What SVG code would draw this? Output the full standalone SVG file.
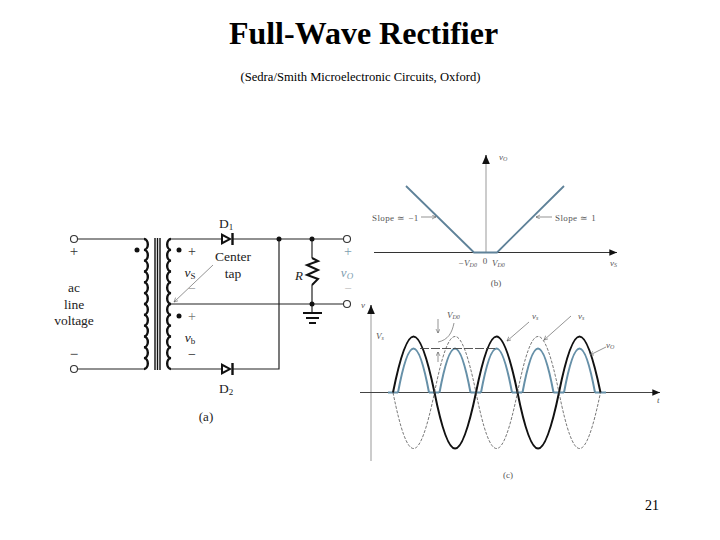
<svg xmlns="http://www.w3.org/2000/svg" width="720" height="540" viewBox="0 0 720 540">
<style>
text{font-family:"Liberation Serif","Times New Roman",serif;fill:#222}
.w{fill:none;stroke:#222;stroke-width:1.2}
.c{fill:none;stroke:#111;stroke-width:2.4}
.t{fill:#fff;stroke:#333;stroke-width:1.1}
.d{fill:#111}
.m{text-anchor:middle}
.ct{font-size:13.500px}
.sm{font-size:9px;fill:#555}
.bl{fill:#7d9db0;font-size:14px}
.ax{fill:none;stroke:#999;stroke-width:1}
.ab{fill:none;stroke:#333;stroke-width:1.3}
.blue{fill:none;stroke:#6690a8;stroke-width:2}
.blk{fill:none;stroke:#111;stroke-width:2}
.ds{fill:none;stroke:#555;stroke-width:.8;stroke-dasharray:3 1.5}
.thin{fill:none;stroke:#666;stroke-width:.7}
</style>
<defs>
<marker id="a" markerWidth="8" markerHeight="8" refX="7" refY="3" orient="auto"><path d="M0 0L7 3L0 6z" fill="#111"/></marker>
<marker id="o" markerWidth="8" markerHeight="8" refX="6" refY="3" orient="auto"><path d="M0 0L6 3L0 6" fill="none" stroke="#555" stroke-width=".8"/></marker>
<path id="hump" d="M0 0C15-74.700 26-74.700 41.500 0"/>
<path id="arch" d="M0 0C11-58.700 20-58.700 31 0"/>
</defs>
<g id="title">
<text x="363.500" y="44" class="m" font-size="32" font-weight="bold" style="fill:#000">Full-Wave Rectifier</text>
<text x="360.500" y="81" class="m" font-size="12.600" style="fill:#000">(Sedra/Smith Microelectronic Circuits, Oxford)</text>
<text x="652" y="510" class="m" font-size="14" style="fill:#000">21</text>
</g>
<g id="connectors">
<path class="w" d="M78 239H144M78 369H144M171 239H221M233 239H343M171 369H221M233 369H279V239M171 304H343M312 239V258M312 285V304M312 304V313"/>
<path class="thin" d="M213 265L174 302" marker-end="url(#o)"/>
</g>
<g id="transformer">
<path class="c" d="M144 239a4 5.420 0 0 1 0 10.830a4 5.420 0 0 1 0 10.830a4 5.420 0 0 1 0 10.830a4 5.420 0 0 1 0 10.830a4 5.420 0 0 1 0 10.830a4 5.420 0 0 1 0 10.830a4 5.420 0 0 1 0 10.830a4 5.420 0 0 1 0 10.830a4 5.420 0 0 1 0 10.830a4 5.420 0 0 1 0 10.830a4 5.420 0 0 1 0 10.830a4 5.420 0 0 1 0 10.830"/>
<path class="c" d="M171 239a4 5.420 0 0 0 0 10.830a4 5.420 0 0 0 0 10.830a4 5.420 0 0 0 0 10.830a4 5.420 0 0 0 0 10.830a4 5.420 0 0 0 0 10.830a4 5.420 0 0 0 0 10.830a4 5.420 0 0 0 0 10.830a4 5.420 0 0 0 0 10.830a4 5.420 0 0 0 0 10.830a4 5.420 0 0 0 0 10.830a4 5.420 0 0 0 0 10.830a4 5.420 0 0 0 0 10.830"/>
<path fill="none" stroke="#111" stroke-width="1.400" d="M155 238V370M157.500 238V370M160 238V370"/>
<circle class="d" cx="137" cy="250" r="2.500"/><circle class="d" cx="179" cy="250" r="2.500"/><circle class="d" cx="179" cy="316" r="2.500"/>
</g>
<g id="input">
<circle class="t" cx="74" cy="239" r="3.500"/><circle class="t" cx="74" cy="369" r="3.500"/>
<text x="74" y="256" class="m" font-size="15" style="fill:#333">+</text><text x="74" y="359" class="m" font-size="15">−</text>
<text x="74" y="292" class="m ct">ac</text><text x="74" y="309" class="m ct">line</text><text x="74" y="325" class="m ct">voltage</text>
</g>
<g id="secondary-labels">
<text x="192" y="256" class="m" font-size="14" style="fill:#333">+</text>
<text x="190" y="277" class="m ct" font-style="italic">v<tspan font-size="9" dy="2" font-style="normal">S</tspan></text>
<text x="192" y="293" class="m" font-size="14" style="fill:#999">−</text>
<text x="192" y="321" class="m" font-size="14" style="fill:#777">+</text>
<text x="190" y="342" class="m ct" font-style="italic">v<tspan font-size="9" dy="2" font-style="normal">b</tspan></text>
<text x="192" y="359" class="m" font-size="14">−</text>
<text x="233" y="261" class="m ct">Center</text><text x="233" y="278" class="m ct">tap</text>
<text x="206" y="421" class="m" font-size="13">(a)</text>
</g>
<g id="D1"><path class="d" d="M221 233L232 239L221 245z"/><path stroke="#111" stroke-width="2.400" d="M232.500 233V245"/><path fill="#fff" d="M223 236.500L228 239L223 241.500z"/>
<text x="226" y="228" class="m ct">D<tspan font-size="9" dy="2">1</tspan></text></g>
<g id="D2"><path class="d" d="M221 363L232 369L221 375z"/><path stroke="#111" stroke-width="2.400" d="M232.500 363V375"/><path fill="#fff" d="M223 366.500L228 369L223 371.500z"/>
<text x="226" y="393" class="m ct">D<tspan font-size="9" dy="2">2</tspan></text></g>
<g id="R"><path fill="none" stroke="#111" stroke-width="2" d="M312 258L318 261L307 265L318 270L307 275L318 279L312 285"/>
<text x="299" y="280" class="m" font-size="13" font-style="italic">R</text></g>
<g id="ground"><path stroke="#111" stroke-width="1.800" d="M303 313H322M306 318H319M309 323H316"/></g>
<g id="junctions"><circle class="d" cx="279" cy="239" r="2.500"/><circle class="d" cx="312" cy="239" r="2.500"/><circle class="d" cx="312" cy="304" r="2.500"/></g>
<g id="output">
<circle class="t" cx="347" cy="239" r="3.500"/><circle class="t" cx="347" cy="304" r="3.500"/>
<text x="348" y="256" class="m bl">+</text>
<text x="347" y="277" class="m bl" style="font-size:13px" font-style="italic">v<tspan font-size="9" dy="2">O</tspan></text>
<text x="348" y="293" class="m" font-size="13" style="fill:#bbb">−</text>
</g>
<g id="graph-b">
<path class="ax" d="M486 252V160"/><path class="ab" d="M486 160V155" marker-end="url(#a)"/>
<path fill="none" stroke="#333" stroke-width="1.100" d="M374 252.500H617" marker-end="url(#a)"/>
<path fill="none" stroke="#5f8299" stroke-width="1.800" d="M406 186L474 252.500H497L564 186"/>
<path class="thin" d="M421 217H436" marker-end="url(#o)"/><path class="thin" d="M552 217H536" marker-end="url(#o)"/>
<text x="372" y="221" class="sm" style="letter-spacing:.4px">Slope ≃ −1</text><text x="555" y="221" class="sm" style="letter-spacing:.4px">Slope ≃ 1</text>
<text x="499" y="160" class="sm" font-style="italic">v<tspan font-size="6" dy="1">O</tspan></text>
<text x="610" y="266" class="sm" font-style="italic">v<tspan font-size="6" dy="1">S</tspan></text>
<text x="458" y="266" class="sm" font-style="italic">−V<tspan font-size="6" dy="1">D0</tspan></text>
<text x="485" y="264" class="m sm">0</text>
<text x="492" y="266" class="sm" font-style="italic">V<tspan font-size="6" dy="1">D0</tspan></text>
<text x="496" y="286" class="m sm">(b)</text>
</g>
<g id="graph-c">
<path class="ax" d="M371 461V310"/><path class="ab" d="M371 312V305" marker-end="url(#a)"/>
<path fill="none" stroke="#444" stroke-width="1.100" d="M360 392.500H660" marker-end="url(#a)"/>
<path class="blue" d="M388 392.500H398M429 392.500H439M470.500 392.500H481M512 392.500H522M553.500 392.500H564M595 392.500H606"/>
<g transform="translate(0 392.500)">
<use href="#arch" x="398" class="blue"/><use href="#arch" x="439.500" class="blue"/><use href="#arch" x="481" class="blue"/><use href="#arch" x="522.500" class="blue"/><use href="#arch" x="564" class="blue"/>
</g>
<g transform="translate(0 392.500)">
<use href="#hump" x="393" class="blk"/><use href="#hump" x="476" class="blk"/><use href="#hump" x="559" class="blk"/>
<use href="#hump" x="434.500" class="ds"/><use href="#hump" x="517.500" class="ds"/>
</g>
<g transform="translate(0 392.500) scale(1 -1)">
<use href="#hump" x="434.500" class="blk"/><use href="#hump" x="517.500" class="blk"/>
<use href="#hump" x="393" class="ds"/><use href="#hump" x="476" class="ds"/><use href="#hump" x="559" class="ds"/>
</g>
<path fill="none" stroke="#444" stroke-width=".9" stroke-dasharray="9 2" d="M420 348.500H497"/>
<path class="thin" d="M438 319V333" marker-end="url(#o)"/><path class="thin" d="M438 362V352" marker-end="url(#o)"/>
<path class="thin" d="M438 342C448 340 452 333 454 323"/>
<path class="thin" d="M529 322L507 341" marker-end="url(#o)"/><path class="thin" d="M571 316L544 340" marker-end="url(#o)"/><path class="thin" d="M606 347L590 355" marker-end="url(#o)"/>
<text x="361" y="308" class="sm" font-style="italic">v</text>
<text x="376" y="339" class="sm" font-style="italic">V<tspan font-size="6" dy="1">s</tspan></text>
<text x="447" y="318" class="sm" font-style="italic">V<tspan font-size="6" dy="1">D0</tspan></text>
<text x="532" y="319" class="sm" font-style="italic">v<tspan font-size="6" dy="1">s</tspan></text>
<text x="578" y="319" class="sm" font-style="italic">v<tspan font-size="6" dy="1">s</tspan></text>
<text x="606" y="348" class="sm" font-style="italic">v<tspan font-size="6" dy="1">O</tspan></text>
<text x="657" y="403" class="sm" font-style="italic">t</text>
<text x="508" y="478" class="m sm">(c)</text>
</g>
</svg>
